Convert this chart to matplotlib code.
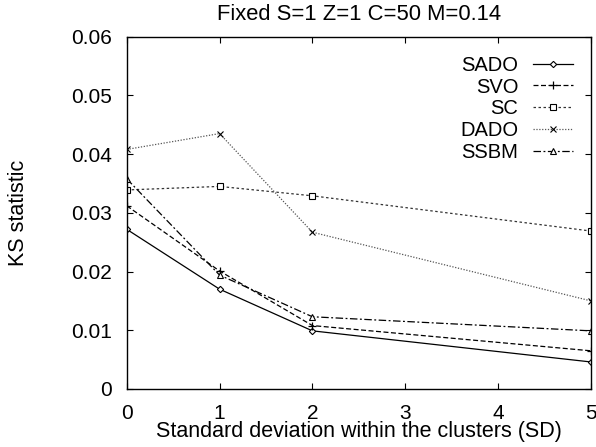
import matplotlib
matplotlib.use("Agg")
import matplotlib.pyplot as plt
import numpy as np

plt.rcParams['font.family'] = ['Liberation Sans', 'DejaVu Sans']

# valeurs
sd = [0, 1, 2, 5]
sado = [0.0272, 0.0170, 0.0099, 0.0046]
svo = [0.0312, 0.0201, 0.0108, 0.0065]
sc = [0.0339, 0.0345, 0.0329, 0.0269]
dado = [0.0408, 0.0435, 0.0267, 0.0150]
ssbm = [0.0358, 0.0194, 0.0123, 0.0099]

xticks = [0, 1, 2, 3, 4, 5]
yticks = [0, 0.01, 0.02, 0.03, 0.04, 0.05, 0.06]
ylabels = ['0', '0.01', '0.02', '0.03', '0.04', '0.05', '0.06']

fig = plt.figure(figsize=(5.96, 4.47), dpi=100)
ax = fig.add_axes([0.2126, 0.1298, 0.779, 0.7881])

ax.plot(sd, sado, color='black', lw=0.9, ls='-', marker='D', ms=3.2,
        mfc='white', mec='black', mew=0.8, label='SADO')
ax.plot(sd, svo, color='black', lw=0.9, ls=(0, (4, 2)), marker='+', ms=6,
        mew=0.9, label='SVO')
ax.plot(sd, sc, color='#333333', lw=0.9, ls=(0, (2, 2)), marker='s', ms=5,
        mfc='white', mec='black', mew=0.8, label='SC')
ax.plot(sd, dado, color='#555555', lw=0.9, ls=(0, (1, 1.3)), marker='x', ms=5,
        mec='black', mew=0.8, label='DADO')
ax.plot(sd, ssbm, color='black', lw=0.9, ls=(0, (6, 2, 1.5, 2)), marker='^', ms=4.5,
        mfc='white', mec='black', mew=0.8, label='SSBM')

ax.set_xlim(0, 5)
ax.set_ylim(0, 0.06)
ax.set_xticks(xticks)
ax.set_xticklabels([str(t) for t in xticks])
ax.set_yticks(yticks)
ax.set_yticklabels(ylabels)
ax.tick_params(direction='in', length=4, width=0.8, top=True, right=True,
               labelsize=15)
ax.tick_params(axis='y', pad=10.5)
ax.tick_params(axis='x', pad=10.5)
for s in ax.spines.values():
    s.set_linewidth(1.0)

ax.set_title('Fixed S=1 Z=1 C=50 M=0.14', fontsize=15.8, y=1.0616, pad=0, va='center')
ax.set_xlabel('Standard deviation within the clusters (SD)', fontsize=15.5, va='center')
ax.xaxis.set_label_coords(0.5, -0.121)
ax.set_ylabel('KS statistic', fontsize=15.5, va='center')
ax.yaxis.set_label_coords(-0.234, 0.5)

leg = ax.legend(loc='upper right', markerfirst=False, frameon=False, fontsize=14.5,
                numpoints=1, handlelength=2.0, handletextpad=0.7,
                labelspacing=0.14, borderpad=0, borderaxespad=0,
                bbox_to_anchor=(0.961, 0.946))

fig.savefig('out.png', dpi=100)
